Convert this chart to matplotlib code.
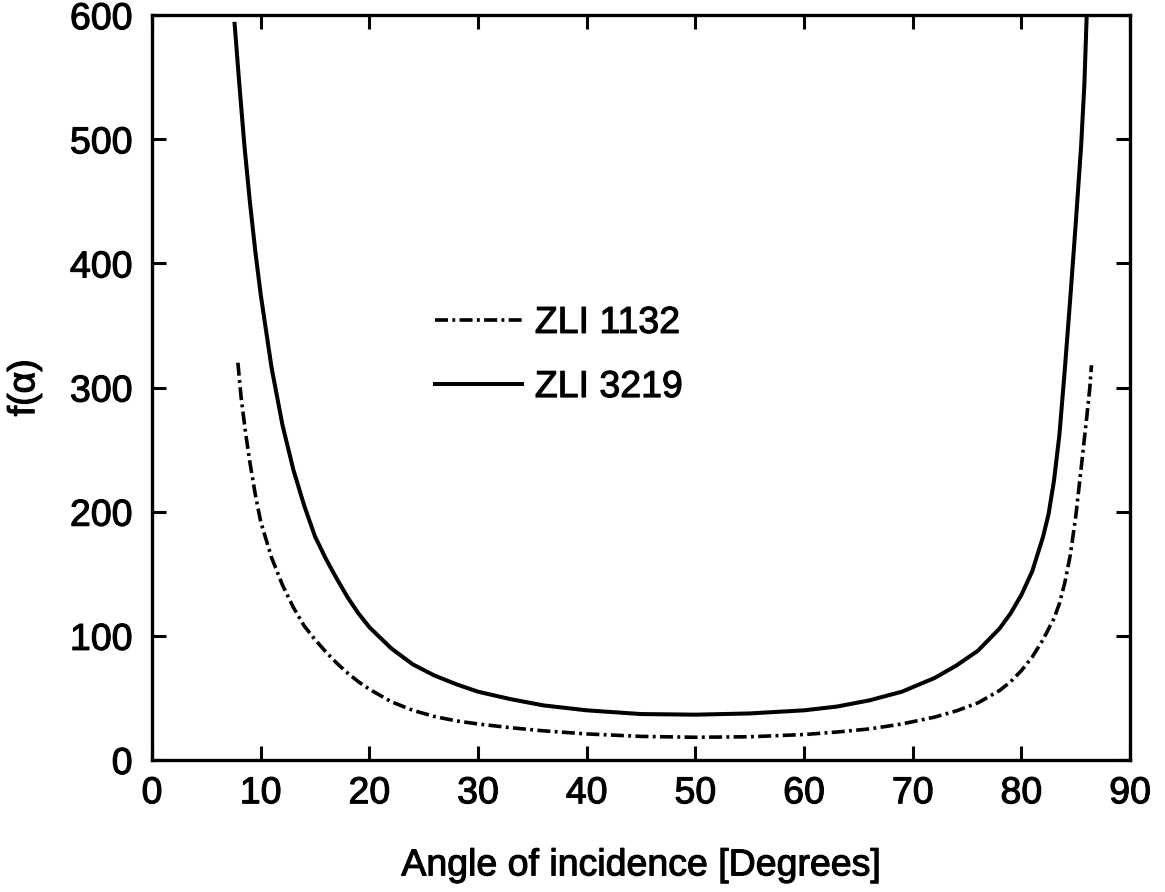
import matplotlib
matplotlib.use("Agg")
import matplotlib.pyplot as plt
import matplotlib.patheffects as pe

plt.rcParams['font.family'] = ['Liberation Sans', 'DejaVu Sans']

# ZLI 3219 (solid)
x_3219 = [7.6, 8.0, 8.5, 9.0, 9.5, 10.0, 11.0, 12.0, 13.0, 14.0, 15.0, 16.0, 17.0,
          18.0, 19.0, 20.0, 22.0, 24.0, 26.0, 28.0, 30.0, 33.0, 36.0, 40.0, 45.0,
          50.0, 55.0, 60.0, 63.0, 66.0, 69.0, 72.0, 74.0, 76.0, 78.0, 79.0, 80.0,
          81.0, 82.0, 82.5, 83.0, 83.5, 84.0, 84.5, 85.0, 85.5, 85.8, 86.0]
y_3219 = [593, 548, 495, 450, 410, 375, 316, 270, 234, 205, 180, 162, 146,
          131, 118, 107, 90, 77, 68, 61, 55, 49, 44, 40, 37,
          36.5, 37.5, 40, 43, 48, 55, 66, 76, 88, 106, 118, 133,
          152, 180, 198, 225, 262, 315, 372, 432, 495, 545, 597]

# ZLI 1132 (dash-dot)
x_1132 = [7.9, 8.2, 8.6, 9.0, 9.5, 10.0, 11.0, 12.0, 13.0, 14.0, 15.0, 16.0, 17.0,
          18.0, 19.0, 20.0, 22.0, 24.0, 26.0, 28.0, 30.0, 33.0, 36.0, 40.0, 45.0,
          50.0, 55.0, 60.0, 63.0, 66.0, 69.0, 72.0, 74.0, 76.0, 78.0, 79.0, 80.0,
          81.0, 82.0, 83.0, 83.5, 84.0, 84.5, 85.0, 85.5, 86.0, 86.3, 86.45]
y_1132 = [320, 292, 264, 240, 214, 192, 163, 141, 123, 108, 97, 87, 78,
          70, 63, 57, 47, 40, 35, 31.5, 29, 26, 23.5, 21, 19,
          18.3, 18.7, 20.5, 22.5, 25, 29, 34.5, 39.5, 46, 56, 63, 72,
          83, 97, 114, 126, 143, 165, 196, 235, 275, 300, 318]

labels = ["ZLI 1132", "ZLI 3219"]
x_ticks = [0, 10, 20, 30, 40, 50, 60, 70, 80, 90]
y_ticks = [0, 100, 200, 300, 400, 500, 600]

FS = 27
thick = [pe.withStroke(linewidth=0.8, foreground='black')]

fig = plt.figure(figsize=(11.65, 8.92), dpi=100)
ax = fig.add_axes([0.1305, 0.148, 0.8395, 0.835])

ax.plot(x_1132, y_1132, color='black', lw=2.6, dashes=(3.6, 1.2, 0.8, 1.2),
        label=labels[0])
ax.plot(x_3219, y_3219, color='black', lw=2.9, label=labels[1])

ax.set_xlim(0, 90)
ax.set_ylim(0, 600)
ax.set_xticks(x_ticks)
ax.set_yticks(y_ticks)
ax.tick_params(direction='in', length=10, width=2.2, top=True, right=True,
               labelsize=FS, colors='black')
ax.tick_params(axis='x', pad=11)
ax.tick_params(axis='y', pad=14)
for s in ax.spines.values():
    s.set_linewidth(2.4)

ax.set_xlabel("Angle of incidence [Degrees]", fontsize=FS, labelpad=26)
ax.set_ylabel("f(α)", fontsize=FS, labelpad=20)

leg = ax.legend(loc='upper left', bbox_to_anchor=(0.289, 0.611), frameon=False,
                fontsize=FS, handlelength=2.32, handletextpad=0.35,
                labelspacing=0.75, borderpad=0, borderaxespad=0)

for t in (ax.get_xticklabels() + ax.get_yticklabels() + leg.get_texts()
          + [ax.xaxis.label, ax.yaxis.label]):
    t.set_path_effects(thick)

fig.savefig("out.png", dpi=100)
